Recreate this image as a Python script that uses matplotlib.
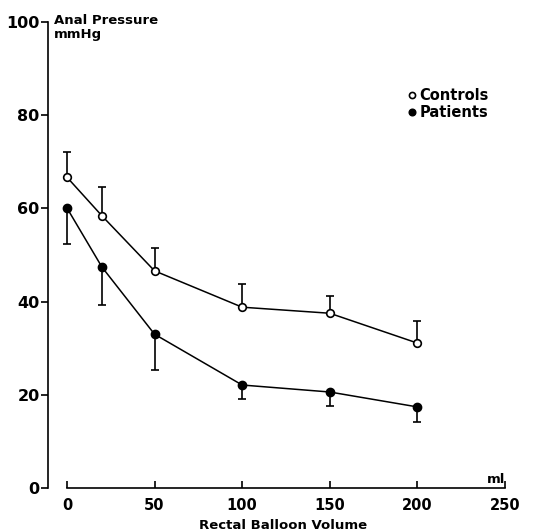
import matplotlib
matplotlib.use("Agg")
import matplotlib.pyplot as plt
import numpy as np

plt.rcParams['font.family'] = ['DejaVu Sans']
plt.rcParams['font.weight'] = 'bold'

volume = [0, 20, 50, 100, 150, 200]
controls = [66.7, 58.4, 46.6, 38.8, 37.5, 31.1]
controls_up = [5.4, 6.2, 4.9, 5.0, 3.7, 4.7]
patients = [60.1, 47.4, 33.0, 22.1, 20.6, 17.4]
patients_down = [7.7, 8.1, 7.7, 3.0, 3.0, 3.2]

xticks = [0, 50, 100, 150, 200, 250]
yticks = [0, 20, 40, 60, 80, 100]

fig = plt.figure(figsize=(5.5, 5.32), dpi=100)
ax = fig.add_axes([48/550, 44/532, 457/550, 466/532])

zeros = np.zeros(len(volume))
ax.errorbar(volume, controls, yerr=[zeros, controls_up], fmt='none',
            ecolor='black', elinewidth=1.2, capsize=3, capthick=1.2)
ax.errorbar(volume, patients, yerr=[patients_down, zeros], fmt='none',
            ecolor='black', elinewidth=1.2, capsize=3, capthick=1.2)
ax.plot(volume, controls, color='black', lw=1.1, marker='o', ms=5.5,
        mfc='white', mec='black', mew=1.2, label='Controls', zorder=3)
ax.plot(volume, patients, color='black', lw=1.1, marker='o', ms=6,
        mfc='black', mec='black', label='Patients', zorder=3)

ax.set_xlim(-10.8, 250)
ax.set_ylim(0, 100)
ax.spines['top'].set_visible(False)
ax.spines['right'].set_visible(False)
ax.spines['bottom'].set_bounds(0, 250)
ax.spines['left'].set_bounds(0, 100)
ax.spines['left'].set_linewidth(1.2)
ax.spines['bottom'].set_linewidth(1.2)

ax.set_xticks(xticks)
ax.set_yticks(yticks)
ax.tick_params(axis='x', direction='in', length=5, width=1.2, pad=7, labelsize=10.5)
ax.tick_params(axis='y', direction='out', length=5, width=1.2, pad=1, labelsize=11.5)
for lab in ax.get_xticklabels() + ax.get_yticklabels():
    lab.set_fontweight('bold')

ax.set_xlabel('Rectal Balloon Volume', fontsize=9.5, fontweight='bold')
ax.xaxis.set_label_coords((283 - 48) / 457, -0.066)
ax.text(-7.5, 101.8, 'Anal Pressure\nmmHg', fontsize=9.5, fontweight='bold',
        va='top', ha='left', linespacing=1.1)
ax.text(250, 0.4, 'ml', fontsize=9.5, fontweight='bold', ha='right', va='bottom')

ax.legend(loc='upper left', bbox_to_anchor=(0.79, 0.858), frameon=False,
          handlelength=0.4, handletextpad=0.3, labelspacing=0.15,
          borderaxespad=0, borderpad=0,
          prop={'size': 10.5, 'weight': 'bold'}, markerscale=0.8)
legend = ax.get_legend()
for h in legend.legend_handles:
    h.set_linestyle('none')

fig.savefig('out.png', dpi=100)
